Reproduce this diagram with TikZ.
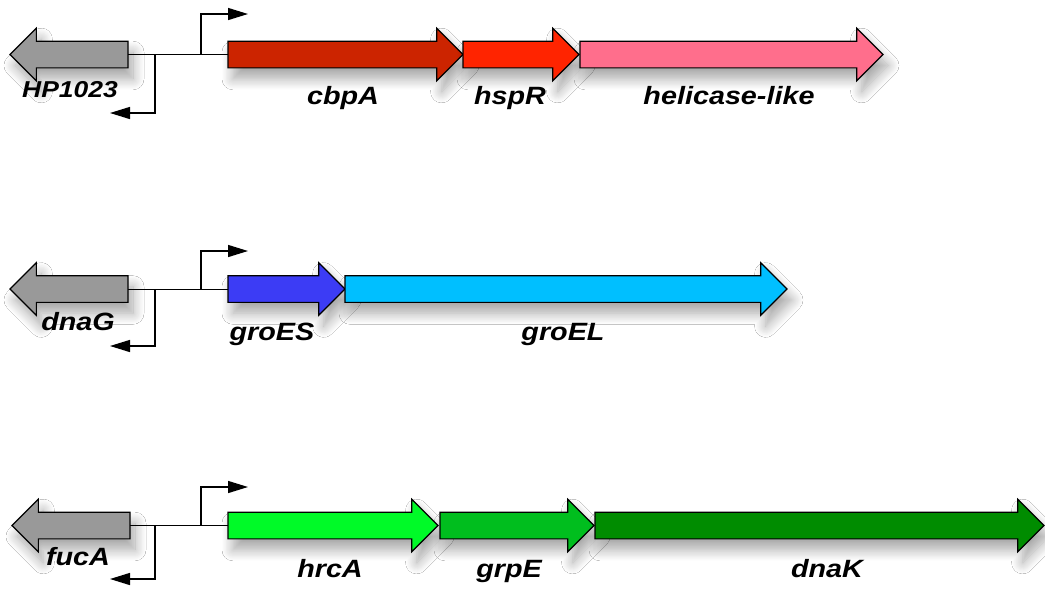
\documentclass[tikz,border=0pt]{standalone}
\usepackage{fontspec}
\usetikzlibrary{shapes.arrows,arrows.meta,shadows.blur}
\newfontfamily\labfont{Liberation Sans}[FakeStretch=1.15]
\definecolor{genegray}{RGB}{153,153,153}
\definecolor{cbpAcol}{RGB}{204,36,0}
\definecolor{hspRcol}{RGB}{255,36,0}
\definecolor{helcol}{RGB}{255,110,140}
\definecolor{groEScol}{RGB}{60,60,245}
\definecolor{groELcol}{RGB}{0,191,255}
\definecolor{hrcAcol}{RGB}{0,250,40}
\definecolor{grpEcol}{RGB}{0,190,30}
\definecolor{dnaKcol}{RGB}{0,140,0}
\begin{document}
\begin{tikzpicture}[x=1pt,y=-1pt,
  gene/.style={single arrow, draw=black, line width=1.1pt,
    single arrow head extend=13pt, inner xsep=0pt, inner ysep=12.75pt,
    minimum height=#1, text height=0pt, text depth=0pt, outer sep=0pt,
    anchor=tail,
    blur shadow={shadow xshift=5pt, shadow yshift=-11pt, shadow opacity=35,
      shadow blur radius=11pt, shadow blur steps=14}},
  leftgene/.style={gene=#1, shape border rotate=180},
  backbone/.style={line width=0.9pt, black},
  prom/.style={line width=1.4pt, black, -{Triangle[length=20pt,width=12pt]}},
  lab/.style={anchor=base, inner sep=0pt,
    font=\labfont\bfseries\itshape\fontsize{25}{30}\selectfont},
  smalllab/.style={lab, font=\labfont\bfseries\itshape\fontsize{23}{28}\selectfont}
]
\fill[white] (0,0) rectangle (1045,590);
\useasboundingbox (0,0) rectangle (1045,590);

% ---------- row 1 ----------
\node[leftgene=118, fill=genegray] (hp) at (128,54.5) {};
\node[gene=235, fill=cbpAcol] (cbpA) at (228,54.5) {};
\node[gene=116, fill=hspRcol] (hspR) at (463,54.5) {};
\node[gene=303, fill=helcol] (hel) at (580,54.5) {};
\draw[backbone] (hp.tail) -- (cbpA.tail);
\coordinate (rp1) at (155,54.5);
\coordinate (rp1e) at (110,113);
\coordinate (fp1) at (201,54.5);
\coordinate (fp1e) at (248,14);
\draw[prom] (rp1) |- (rp1e);
\draw[prom] (fp1) |- (fp1e);
\node[smalllab] (lhp) at (70,97) {HP1023};
\node[lab] (lcbpA) at (343,104) {cbpA};
\node[lab] (lhspR) at (510,104) {hspR};
\node[lab] (lhel) at (729,104) {helicase-like};

% ---------- row 2 ----------
\node[leftgene=118, fill=genegray] (dnaG) at (128,289) {};
\node[gene=117, fill=groEScol] (groES) at (228,289) {};
\node[gene=442, fill=groELcol] (groEL) at (345,289) {};
\draw[backbone] (dnaG.tail) -- (groES.tail);
\coordinate (rp2) at (155,289);
\coordinate (rp2e) at (110,346);
\coordinate (fp2) at (201,289);
\coordinate (fp2e) at (248,251);
\draw[prom] (rp2) |- (rp2e);
\draw[prom] (fp2) |- (fp2e);
\node[lab] (ldnaG) at (78,330) {dnaG};
\node[lab] (lgroES) at (272,340) {groES};
\node[lab] (lgroEL) at (563,340) {groEL};

% ---------- row 3 ----------
\node[leftgene=118, fill=genegray] (fucA) at (130,525.5) {};
\node[gene=210, fill=hrcAcol] (hrcA) at (228,525.5) {};
\node[gene=154, fill=grpEcol] (grpE) at (440,525.5) {};
\node[gene=449, fill=dnaKcol] (dnaK) at (595,525.5) {};
\draw[backbone] (fucA.tail) -- (hrcA.tail);
\coordinate (rp3) at (155,525.5);
\coordinate (rp3e) at (110,579);
\coordinate (fp3) at (201,525.5);
\coordinate (fp3e) at (248,487);
\draw[prom] (rp3) |- (rp3e);
\draw[prom] (fp3) |- (fp3e);
\node[lab] (lfucA) at (78,565) {fucA};
\node[lab] (lhrcA) at (330,577) {hrcA};
\node[lab] (lgrpE) at (509,577) {grpE};
\node[lab] (ldnaK) at (827,577) {dnaK};
\end{tikzpicture}
\end{document}
